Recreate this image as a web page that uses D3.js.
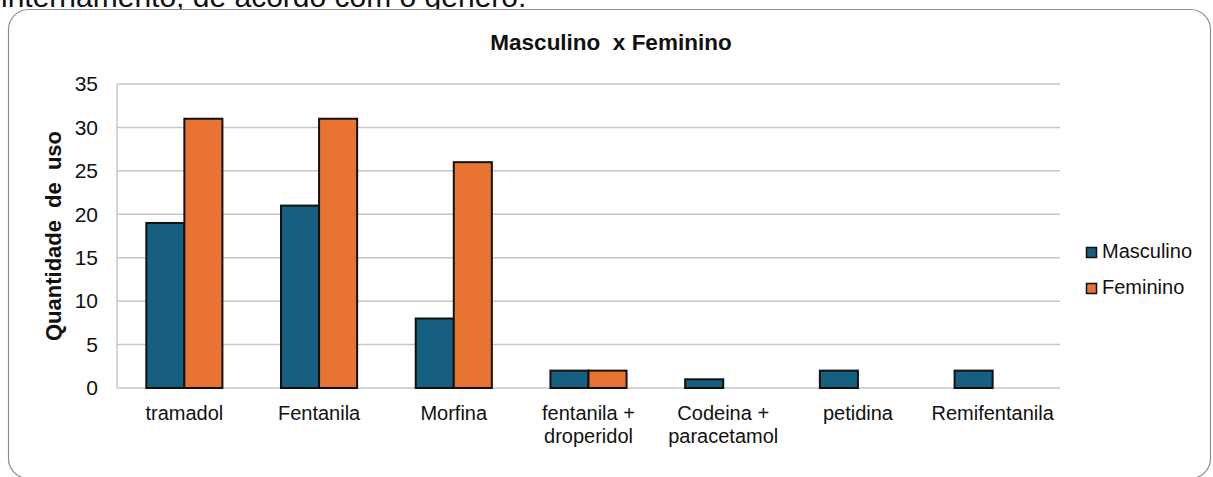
<!DOCTYPE html>
<html>
<head>
<meta charset="utf-8">
<script src="https://cdn.jsdelivr.net/npm/d3@7"></script>
<style>
  body { margin: 0; background: #fff; overflow: hidden; }
  svg { display: block; font-family: "Liberation Sans", Arial, sans-serif; }
</style>
</head>
<body>
<div id="chart"></div>
<script>
const categories = [
  ["tramadol"],
  ["Fentanila"],
  ["Morfina"],
  ["fentanila +", "droperidol"],
  ["Codeina +", "paracetamol"],
  ["petidina"],
  ["Remifentanila"],
];
const masculino = [19, 21, 8, 2, 1, 2, 2];
const feminino = [31, 31, 26, 2, 0, 0, 0];
const seriesNames = ["Masculino", "Feminino"];
const seriesColors = ["#175f80", "#e87332"];
const yTicks = [0, 5, 10, 15, 20, 25, 30, 35];

const width = 1213,
  height = 477,
  plotLeft = 117,
  plotRight = 1060,
  plotTop = 84,
  plotBottom = 388;

const svg = d3
  .select("#chart")
  .append("svg")
  .attr("width", width)
  .attr("height", height);

// caption line of the page, cut by the top edge
svg
  .append("text")
  .attr("x", 1)
  .attr("y", 7)
  .style("font-size", "30px")
  .style("fill", "#111")
  .text("internamento, de acordo com o gênero.");

// rounded chart frame
svg
  .append("rect")
  .attr("x", 8.5)
  .attr("y", 9.5)
  .attr("width", 1202)
  .attr("height", 469)
  .attr("rx", 20)
  .style("fill", "#fff")
  .style("stroke", "#8c8c8c")
  .style("stroke-width", 1.2);

svg
  .append("text")
  .attr("x", 611)
  .attr("y", 50)
  .attr("text-anchor", "middle")
  .attr("xml:space", "preserve")
  .style("font-size", "22.5px")
  .style("font-weight", "bold")
  .style("white-space", "pre")
  .style("fill", "#111")
  .text("Masculino  x Feminino");

const x = d3
  .scaleBand()
  .domain(d3.range(categories.length))
  .range([plotLeft, plotRight])
  .paddingInner(0.435)
  .paddingOuter(0.2175);

const x1 = d3
  .scaleBand()
  .domain(d3.range(seriesNames.length))
  .range([0, x.bandwidth()]);

const y = d3.scaleLinear().domain([0, 35]).range([plotBottom, plotTop]);

// gridlines
svg
  .append("g")
  .selectAll("line")
  .data(yTicks)
  .join("line")
  .attr("x1", plotLeft)
  .attr("x2", plotRight)
  .attr("y1", (d) => y(d))
  .attr("y2", (d) => y(d))
  .style("stroke", "#c6c6c6")
  .style("stroke-width", 1.5);

svg
  .append("line")
  .attr("x1", plotLeft)
  .attr("x2", plotLeft)
  .attr("y1", plotTop)
  .attr("y2", plotBottom)
  .style("stroke", "#c6c6c6")
  .style("stroke-width", 1.5);

// y tick labels
const yAxis = d3.axisLeft(y).tickValues(yTicks).tickSize(0).tickPadding(19);
svg
  .append("g")
  .attr("transform", `translate(${plotLeft},0)`)
  .call(yAxis)
  .call((g) => g.select(".domain").remove())
  .selectAll("text")
  .style("font-size", "21px")
  .style("font-family", "Liberation Sans, Arial, sans-serif")
  .style("fill", "#111");

svg
  .append("text")
  .attr("transform", `translate(61,236) rotate(-90)`)
  .attr("text-anchor", "middle")
  .style("font-size", "22px")
  .style("font-weight", "bold")
  .style("word-spacing", "6px")
  .style("fill", "#111")
  .text("Quantidade de uso");

// bars
const rows = categories.map((c, i) => [masculino[i], feminino[i]]);
const groups = svg
  .append("g")
  .selectAll("g")
  .data(rows)
  .join("g")
  .attr("transform", (d, i) => `translate(${x(i)},0)`);

groups
  .selectAll("rect")
  .data((d) => d.map((v, s) => ({ v, s })).filter((e) => e.v > 0))
  .join("rect")
  .attr("x", (d) => x1(d.s))
  .attr("y", (d) => y(d.v))
  .attr("width", x1.bandwidth())
  .attr("height", (d) => y(0) - y(d.v))
  .style("fill", (d) => seriesColors[d.s])
  .style("stroke", "#111")
  .style("stroke-width", 2);

// x labels
const xl = svg
  .append("g")
  .selectAll("text")
  .data(categories)
  .join("text")
  .attr("x", (d, i) => x(i) + x.bandwidth() / 2)
  .attr("y", 420)
  .attr("text-anchor", "middle")
  .style("font-size", "20px")
  .style("fill", "#111");
xl.selectAll("tspan")
  .data((d) => d)
  .join("tspan")
  .attr("x", function () {
    return this.parentNode.getAttribute("x");
  })
  .attr("dy", (d, i) => (i === 0 ? 0 : 23))
  .text((d) => d);

// legend
const legend = svg
  .append("g")
  .selectAll("g")
  .data(seriesNames)
  .join("g")
  .attr("transform", (d, i) => `translate(1086,${258 + i * 36})`);
legend
  .append("rect")
  .attr("x", 0.5)
  .attr("y", -10.5)
  .attr("width", 10)
  .attr("height", 10)
  .style("fill", (d, i) => seriesColors[i])
  .style("stroke", "#111")
  .style("stroke-width", 1.5);
legend
  .append("text")
  .attr("x", 16)
  .attr("y", 0)
  .style("font-size", "20px")
  .style("fill", "#111")
  .text((d) => d);
</script>
</body>
</html>
